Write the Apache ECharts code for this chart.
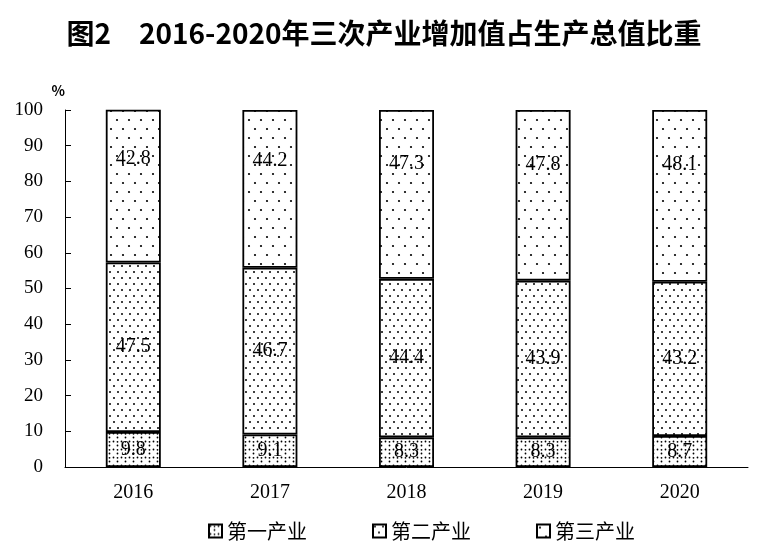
<!DOCTYPE html>
<html><head><meta charset="utf-8">
<script src="https://cdn.jsdelivr.net/npm/echarts@6/dist/echarts.min.js"></script>
<style>html,body{margin:0;padding:0;background:#fff}#c{width:768px;height:559px}</style>
</head><body><div id="c"></div>
<script>
const years = ['2016','2017','2018','2019','2020'];
const primary = [9.8, 9.1, 8.3, 8.3, 8.7];
const secondary = [47.5, 46.7, 44.4, 43.9, 43.2];
const tertiary = [42.8, 44.2, 47.3, 47.8, 48.1];
const seriesNames = ['第一产业','第二产业','第三产业'];
const yTicks = [0,10,20,30,40,50,60,70,80,90,100];

function makePattern(w, h, dots, r) {
  const c = document.createElement('canvas');
  c.width = w; c.height = h;
  const g = c.getContext('2d');
  g.fillStyle = '#fff'; g.fillRect(0,0,w,h);
  g.fillStyle = '#000';
  dots.forEach(d => { g.beginPath(); g.arc(d[0], d[1], r, 0, Math.PI*2); g.fill(); });
  return c;
}
const pat1 = makePattern(8, 8, [[1.5,1.5],[5.5,5.5],[5.5,1.8]], 0.9);
const pat2 = makePattern(8, 12, [[2,2],[6,8]], 1.0);
const pat3 = makePattern(12, 18, [[3,3],[9,12]], 1.1);

const chart = echarts.init(document.getElementById('c'));
const serif = '"Liberation Serif", "DejaVu Serif", serif';
function mk(name, data, pat, pos) {
  return {
    name, type: 'bar', stack: 'total', data, barWidth: 55,
    itemStyle: { color: { image: pat, repeat: 'repeat' }, borderColor: '#000', borderWidth: 1.8 },
    label: { show: true, position: pos, align: 'center', verticalAlign: 'middle',
      color: '#000', fontFamily: serif, fontSize: 20,
      formatter: p => p.value.toFixed(1) }
  };
}
chart.setOption({
  animation: false,
  title: { text: '图2　2016-2020年三次产业增加值占生产总值比重', left: 'center', top: 14,
    textStyle: { fontFamily: '"Noto Sans CJK SC"', fontWeight: 'bold', fontSize: 28, color: '#000' } },
  grid: { left: 65, right: 20, top: 110, bottom: 92 },
  legend: { left: 203, top: 516, itemGap: 65, itemWidth: 13, itemHeight: 13, icon: 'rect',
    textStyle: { fontFamily: '"Noto Sans CJK SC"', fontSize: 20, color: '#000' },
    data: seriesNames },
  xAxis: { type: 'category', data: years,
    axisLine: { lineStyle: { color: '#000', width: 1 } },
    axisTick: { inside: true, length: 6, lineStyle: { color: '#000' } },
    axisLabel: { fontFamily: serif, fontSize: 20, color: '#000', margin: 16 } },
  yAxis: { type: 'value', min: 0, max: 100, interval: 10, name: '%', nameGap: 12,
    nameLocation: 'end',
    nameTextStyle: { fontFamily: '"Noto Sans CJK SC"', fontWeight: 'bold', fontSize: 14, color: '#000', align: 'right', padding: [0, 0, 0, 0] },
    axisLine: { show: true, lineStyle: { color: '#000', width: 1 } },
    axisTick: { show: true, inside: true, length: 6, lineStyle: { color: '#000' } },
    splitLine: { show: false },
    axisLabel: { fontFamily: serif, fontSize: 19, color: '#000', margin: 22,
      formatter: v => yTicks.includes(v) ? String(v) : '' } },
  series: [
    mk(seriesNames[0], primary, pat1, 'inside'),
    mk(seriesNames[1], secondary, pat2, 'inside'),
    mk(seriesNames[2], tertiary, pat3, ['50%', '32%'])
  ]
});
</script></body></html>
